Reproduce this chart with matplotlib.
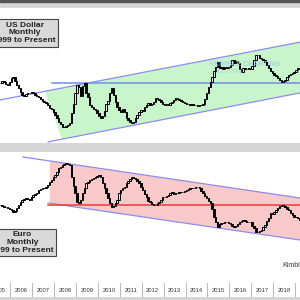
import matplotlib
matplotlib.use("Agg")
import matplotlib.pyplot as plt
import numpy as np
from matplotlib.patches import Polygon, Rectangle

# months are counted from Jan 2005 (0); the data starts in Apr 2005
start_month = 3

usd_close = [
    89.9, 90.6, 90.3, 89.5, 88.9, 90.4, 92.0, 92.5, 90.8,                    # 2005
    89.0, 87.8, 85.9, 84.8, 84.2, 85.0, 85.3, 85.5, 86.0, 85.6, 84.6, 84.2,  # 2006
    83.6, 83.0, 82.1, 81.5, 81.0, 80.2, 78.9, 78.6, 77.0, 75.8, 74.6, 72.8,  # 2007
    71.8, 70.6, 70.4, 70.9, 71.6, 72.3, 76.7, 80.5, 85.5, 89.0, 88.0, 84.0,  # 2008
    88.5, 89.9, 85.5, 83.7, 80.0, 79.3, 78.6, 78.0, 76.6, 75.2, 74.5, 75.5,  # 2009
    77.5, 80.5, 81.8, 85.5, 87.7, 84.5, 81.5, 79.3, 77.8, 77.1, 78.5, 77.1,  # 2010
    74.5, 73.8, 72.8, 72.5, 72.8, 74.5, 75.8, 77.0, 78.0, 77.5, 79.3, 80.0,  # 2011
    81.1, 80.0, 80.5, 81.5, 83.3, 83.0, 82.2, 81.5, 80.6, 80.2, 80.5, 80.4,  # 2012
    81.0, 81.5, 82.6, 83.3, 82.8, 82.4, 82.0, 81.6, 81.1, 80.8, 80.6, 80.4,  # 2013
    80.8, 80.2, 80.4, 79.8, 80.0, 80.2, 80.8, 83.0, 85.5, 88.1, 90.2, 92.5,  # 2014
    95.0, 96.9, 99.1, 96.4, 96.8, 96.2, 97.0, 96.5, 96.9, 97.8, 99.9, 98.8,  # 2015
    99.5, 98.6, 96.0, 94.7, 96.4, 95.8, 96.0, 96.4, 96.0, 97.5, 99.8, 102.1, # 2016
    102.0, 100.8, 100.2, 99.8, 99.1, 97.6, 96.4, 95.0, 94.2, 93.4, 92.8, 92.1,  # 2017
    91.0, 90.3, 90.6, 91.2, 92.5, 93.4, 93.6, 94.2, 94.7, 95.5, 96.4, 96.2,  # 2018
]

eur_close = [
    1.264, 1.255, 1.248, 1.245, 1.240, 1.230, 1.224, 1.208, 1.220,                            # 2005
    1.240, 1.262, 1.285, 1.304, 1.316, 1.320, 1.310, 1.304, 1.330, 1.344, 1.352, 1.360,      # 2006
    1.384, 1.392, 1.400, 1.404, 1.408, 1.425, 1.448, 1.465, 1.488, 1.505, 1.528, 1.560,      # 2007
    1.570, 1.584, 1.596, 1.600, 1.592, 1.584, 1.488, 1.420, 1.360, 1.288, 1.280, 1.304,      # 2008
    1.360, 1.400, 1.440, 1.452, 1.464, 1.470, 1.480, 1.488, 1.496, 1.504, 1.490, 1.440,      # 2009
    1.400, 1.360, 1.320, 1.280, 1.248, 1.256, 1.280, 1.304, 1.360, 1.384, 1.400, 1.410,      # 2010
    1.440, 1.455, 1.470, 1.488, 1.480, 1.475, 1.460, 1.440, 1.410, 1.384, 1.355, 1.328,      # 2011
    1.300, 1.288, 1.275, 1.268, 1.264, 1.280, 1.290, 1.305, 1.328, 1.330, 1.338, 1.344,      # 2012
    1.360, 1.368, 1.355, 1.360, 1.364, 1.368, 1.368, 1.372, 1.378, 1.384, 1.390, 1.400,      # 2013
    1.400, 1.404, 1.408, 1.410, 1.400, 1.380, 1.360, 1.340, 1.320, 1.300, 1.280, 1.230,      # 2014
    1.168, 1.130, 1.088, 1.110, 1.120, 1.120, 1.125, 1.128, 1.120, 1.110, 1.095, 1.088,      # 2015
    1.100, 1.110, 1.128, 1.140, 1.144, 1.136, 1.128, 1.130, 1.125, 1.100, 1.080, 1.052,      # 2016
    1.048, 1.055, 1.064, 1.085, 1.104, 1.140, 1.160, 1.200, 1.196, 1.208, 1.224, 1.240,      # 2017
    1.256, 1.264, 1.256, 1.248, 1.230, 1.224, 1.200, 1.184, 1.168, 1.165, 1.160, 1.144,      # 2018
]

years = list(range(2005, 2019))

# channel lines, (month, value) end points
usd_upper = [(2.85, 82.4), (167.2, 107.8)]
usd_lower = [(29.2, 64.0), (167.2, 85.5)]
usd_level = 89.9
usd_zone = [(27.5, 86.2), (167.2, 107.8), (167.2, 85.5), (36.8, 65.2)]

eur_upper = [(15.45, 1.648), (167.2, 1.32)]
eur_lower = [(29.2, 1.28), (167.2, 0.984)]
eur_level = 1.264
eur_zone = [(30.2, 1.616), (167.2, 1.32), (167.2, 0.984), (30.2, 1.278)]

XMIN, XMAX = 2.85, 167.2


def candles(ax, closes, min_h):
    closes = np.array(closes)
    opens = np.r_[closes[0], closes[:-1]]
    x = np.arange(len(closes)) + start_month
    up = closes >= opens
    bottom = np.minimum(opens, closes)
    height = np.maximum(np.abs(closes - opens), min_h)
    ax.bar(x, height, bottom=bottom, width=0.75,
           color=np.where(up, "#e8e8e8", "black"), edgecolor="black",
           linewidth=0.7, zorder=4)


def panel(ax, zone, zone_color, upper, lower, level, level_color, level_start):
    ax.add_patch(Polygon(zone, closed=True, facecolor=zone_color,
                         edgecolor="none", zorder=1))
    for ln in (upper, lower):
        ax.plot([ln[0][0], ln[1][0]], [ln[0][1], ln[1][1]],
                color="#8c8cf0", lw=0.9, zorder=2)
    ax.plot([level_start, XMAX], [level, level], color=level_color, lw=1.1, zorder=3)
    ax.set_xlim(XMIN, XMAX)
    ax.set_xticks([])
    ax.set_yticks([])
    for s in ax.spines.values():
        s.set_visible(False)


fig = plt.figure(figsize=(3, 3), dpi=100, facecolor="#d6d6d6")
fig.add_artist(Rectangle((0, 1 - 1.5 / 300), 1, 1.5 / 300,
                         transform=fig.transFigure, color="#555555"))

box = dict(boxstyle="square,pad=0.3", facecolor="#d9d9d9",
           edgecolor="#444444", linewidth=0.8)

# US dollar panel
ax1 = fig.add_axes([0, 157 / 300, 1, 135 / 300])
ax1.set_ylim(63.5, 122.8)
panel(ax1, usd_zone, "#c9f5cb", usd_upper, usd_lower, usd_level, "#6f8ee6", 31.3)
candles(ax1, usd_close, 0.12)
ax1.text(0.082, 0.815, "US Dollar\nMonthly\n1999 to Present", transform=ax1.transAxes,
         ha="center", va="center", fontsize=6, fontweight="bold",
         family="Liberation Sans", color="#222222", linespacing=1.15, bbox=box)
ax1.text(0.70, 0.57, "<KIMBLE CHARTING", transform=ax1.transAxes, fontsize=5,
         color="#9cc4ee", alpha=0.75, family="Liberation Sans", fontweight="bold", zorder=5)
ax1.text(0.72, 0.52, "SOLUTIONS", transform=ax1.transAxes, fontsize=3.5,
         color="#9cc4ee", alpha=0.75, family="Liberation Sans", zorder=5)

# Euro panel
ax2 = fig.add_axes([0, 17 / 300, 1, 131 / 300])
ax2.set_ylim(0.64, 1.688)
panel(ax2, eur_zone, "#f9c9c9", eur_upper, eur_lower, eur_level, "#e83a3a", 29.2)
candles(ax2, eur_close, 0.0015)
ax2.text(0.074, 0.31, "Euro\nMonthly\n1999 to Present", transform=ax2.transAxes,
         ha="center", va="center", fontsize=6, fontweight="bold",
         family="Liberation Sans", color="#222222", linespacing=1.15, bbox=box)
ax2.text(0.94, 0.12, "KimbleChartingSolutions.com", transform=ax2.transAxes,
         fontsize=5, color="#333333", family="Liberation Sans", ha="left")

# year labels strip
ax3 = fig.add_axes([0, 3 / 300, 1, 14 / 300])
ax3.set_facecolor("white")
ax3.set_xlim(XMIN, XMAX)
ax3.set_ylim(0, 1)
for y in years:
    pos = 12 * (y - 2005) + 2.5
    ax3.text(pos, 0.5, str(y), ha="center", va="center", fontsize=4.2,
             color="#333333", family="Liberation Sans")
    ax3.axvline(pos + 6, color="#bbbbbb", lw=0.8)
ax3.set_xticks([])
ax3.set_yticks([])
for s in ax3.spines.values():
    s.set_visible(False)

fig.savefig("out.png", dpi=100, facecolor=fig.get_facecolor())
